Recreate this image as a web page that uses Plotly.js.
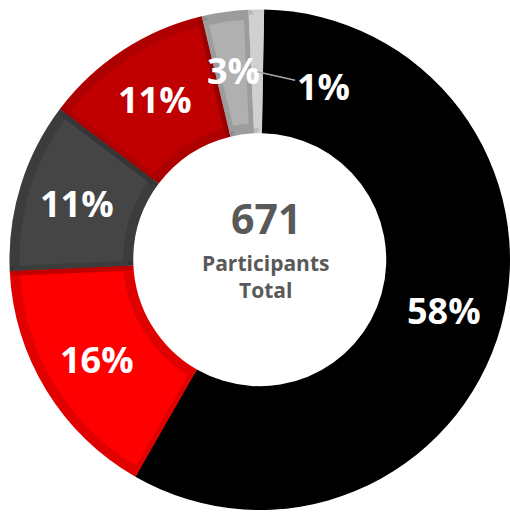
<!DOCTYPE html>
<html>
<head>
<meta charset="utf-8">
<script src="https://cdn.plot.ly/plotly-3.0.1.min.js"></script>
<style>
  html, body { margin: 0; padding: 0; background: #ffffff; overflow: hidden; }
  #chart { width: 510px; height: 515px; }
</style>
</head>
<body>
<div id="chart"></div>
<script>
// ---- data ----
const categories = ["Group A", "Group B", "Group C", "Group D", "Group E", "Group F"];
const shares = [58, 16, 11, 11, 3, 1];
const sliceColors = ["#000000", "#FF0000", "#454545", "#C00000", "#B0B0B0", "#D0D0D0"];
const edgeShade = [0, 0.12, 0.13, 0.09, 0.11, 0];
const centerTotal = "671";
const centerCaption = ["Participants", "Total"];

// ---- layout geometry ----
const W = 510, H = 515;
const CX = 259.75, CY = 259.7, R = 250.25, RIN = 126.5, BAND = 5;
const ROT = 1;
const LABEL_R = 191;

function domainFor(rad) {
  return {
    x: [(CX - rad) / W, Math.min(1, (CX + rad) / W)],
    y: [1 - (CY + rad) / H, 1 - (CY - rad) / H]
  };
}

const base = {
  type: "pie",
  labels: categories,
  values: shares,
  sort: false,
  direction: "clockwise",
  rotation: ROT,
  textinfo: "none",
  hoverinfo: "skip",
  showlegend: false
};

const traceOuter = Object.assign({}, base, {
  domain: domainFor(R),
  hole: RIN / R,
  marker: { colors: sliceColors, line: { width: 0 } }
});

const traceInner = Object.assign({}, base, {
  domain: domainFor(R - BAND),
  hole: (RIN + BAND) / (R - BAND),
  marker: {
    colors: sliceColors,
    line: { width: 2 * BAND, color: edgeShade.map(a => "rgba(0,0,0," + a + ")") }
  }
});

// ---- labels placed at each slice's mid-angle ----
const total = shares.reduce((a, b) => a + b, 0);
const annotations = [];
let cum = 0;
shares.forEach((v, i) => {
  const mid = ROT + 360 * (cum + v / 2) / total;
  cum += v;
  const t = mid * Math.PI / 180;
  const px = CX + LABEL_R * Math.sin(t);
  const py = CY - LABEL_R * Math.cos(t);
  const ann = {
    xref: "paper", yref: "paper",
    x: px / W, y: 1 - py / H,
    text: v + "%",
    showarrow: false,
    xanchor: "center", yanchor: "middle",
    font: { family: "Open Sans", size: 36, color: "#FFFFFF", weight: 700 }
  };
  if (v / total < 0.02) {
    const hx = CX + 188 * Math.sin(t), hy = CY - 188 * Math.cos(t);
    ann.x = hx / W; ann.y = 1 - hy / H;
    ann.showarrow = true;
    ann.arrowhead = 0;
    ann.arrowwidth = 1.5;
    ann.arrowcolor = "#A6A6A6";
    ann.ax = 66; ann.ay = 15;
  }
  annotations.push(ann);
});

// ---- centre text ----
annotations.push({
  xref: "paper", yref: "paper",
  x: (CX + 6) / W, y: 1 - (CY - 41.5) / H,
  text: centerTotal, showarrow: false,
  xanchor: "center", yanchor: "middle",
  font: { family: "Open Sans", size: 41, color: "#595959", weight: 700 }
});
annotations.push({
  xref: "paper", yref: "paper",
  x: (CX + 6) / W, y: 1 - (CY + 17) / H,
  text: centerCaption.join("<br>"), showarrow: false,
  xanchor: "center", yanchor: "middle",
  font: { family: "Open Sans", size: 21, color: "#595959", weight: 700 }
});

const layout = {
  width: W, height: H,
  margin: { l: 0, r: 0, t: 0, b: 0, pad: 0 },
  paper_bgcolor: "#FFFFFF",
  plot_bgcolor: "#FFFFFF",
  showlegend: false,
  annotations: annotations
};

Plotly.newPlot("chart", [traceOuter, traceInner], layout, { displayModeBar: false, staticPlot: true });
</script>
</body>
</html>
